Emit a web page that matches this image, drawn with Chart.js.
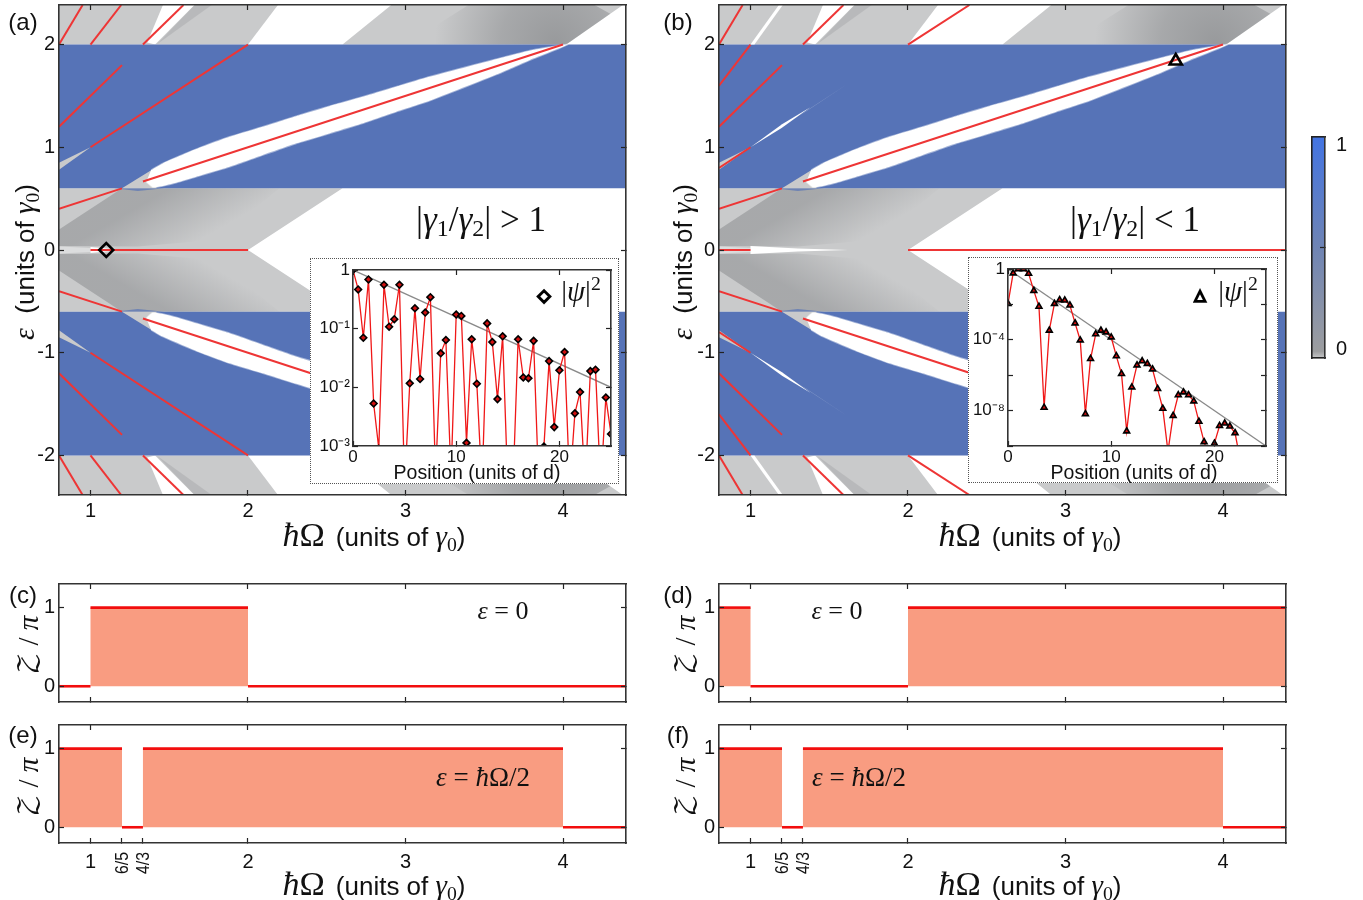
<!DOCTYPE html>
<html>
<head>
<meta charset="utf-8">
<script src="https://cdn.jsdelivr.net/npm/chart.js@4"></script>
<style>
  body { margin: 0; background: #fff; }
  #page { position: relative; width: 1363px; height: 900px; overflow: hidden; font-family: "Liberation Sans", sans-serif; color: #111; }
  canvas { position: absolute; }
  .lbl { position: absolute; transform: translate(-50%, -50%); white-space: nowrap; line-height: 1; }
  .math { font-family: "Liberation Serif", serif; }
  .math i { font-style: italic; }
  .math sub { font-size: 68%; vertical-align: -0.25em; line-height: 0; }
  .math sup { font-size: 68%; vertical-align: 0.55em; line-height: 0; }
  .inset { position: absolute; background: #fff; border: 1px dotted #555; box-sizing: border-box; }
</style>
</head>
<body>
<div id="page"></div>
<script>
// Ejes
const xLim = [0.8, 4.4];
const yLim = [-2.385, 2.385];
const xTicks = [1, 2, 3, 4];
const yTicks = [-2, -1, 0, 1, 2];
const zakTicks = [0, 1];
const fracTicks = [6 / 5, 4 / 3];
const fracLabels = ["6/5", "4/3"];

// Regiones del mapa (Omega, epsilon), mitad superior; la inferior es su espejo
const blueBand = [[0.8, 0.6], [4.4, 0.6], [4.4, 2], [0.8, 2]];
const grayCenter = [[0.8, -0.6], [2.6, -0.6], [2, 0], [2.6, 0.6], [0.8, 0.6]];
const grayTopLeft = [[0.8, 2], [2, 2], [2.19, 2.385], [0.8, 2.385]];
const grayTopRight = [[2.6, 2], [4.02, 2], [4.38, 2.385], [2.91, 2.385]];
const shadeCenter = [[0.8, 0.2], [1.2, 0.6], [2.2, 0.6], [1.8, 0.1], [1.3, 0.035], [0.8, 0.04]];
const shadeCenterFrom = [1.375, 0.486];
const shadeCenterTo = [1.565, -0.02];
const shadeTopWedge = [[1.42, 2], [1.77, 2.385], [1.66, 2.385]];
const shadeTopRight = [[3.0, 2], [4.02, 2], [4.3, 2.3], [4.2, 2.385], [3.4, 2.385]];
const shadeTopAt = [3.95, 2.02];
const blueGlow = [[1.15, 0.6], [1.47, 0.6], [1.3, 0.575]];
const lens = [
  [1.385, 0.778], [1.459, 0.843], [1.671, 0.982], [1.883, 1.102], [2.094, 1.2], [2.306, 1.303], [2.517, 1.4], [2.729, 1.491], [2.941, 1.589], [3.152, 1.686], [3.58, 1.86], [3.8, 1.945], [4.03, 2],
  [3.79, 1.85], [3.58, 1.71], [3.152, 1.452], [2.941, 1.345], [2.729, 1.233], [2.517, 1.135], [2.306, 1.038], [2.094, 0.924], [1.883, 0.81], [1.671, 0.713], [1.565, 0.664], [1.459, 0.623], [1.395, 0.612], [1.354, 0.664]
];
const wedgeLeft = [[0.8, 0.85], [1, 1], [0.8, 0.78]];
const wedgeMid = [[1.2, 0.6], [1.39, 0.78], [1.42, 0.6]];
const whiteTop = [[1.36, 2.02], [1.41, 2], [1.66, 2.385], [1.46, 2.385]];
const paleZero = [[0.8, 0.035], [1, 0.02], [1, -0.02], [0.8, -0.035]];
const whiteZeroA = [[1, 0.03], [1.2, 0], [1, -0.03]];
const whiteZeroB = [[1, 0.04], [1.3, 0.015], [1.62, 0], [1.3, -0.015], [1, -0.04]];
const sliverMid = [[1, 1], [1.2, 1.225], [1.38, 1.39], [1.2, 1.19]];
const sliverFaint = [[1.3, 1.3], [1.62, 1.62], [1.35, 1.345]];
const sliverTop = [[1, 2], [1.025, 2], [1.205, 2.385], [1.18, 2.385]];

// Estados de borde (rojo), cada uno [inicio, fin]
const edgesA = [
  [[0.8, 2], [0.95, 2.385]], [[1, 2], [1.195, 2.385]], [[1.333, 2], [1.59, 2.385]],
  [[0.8, 1.2], [1.2, 1.8]], [[1, 1], [2, 2]], [[1.333, 0.667], [4, 2]], [[0.8, 0.4], [1.2, 0.6]],
  [[1, 0], [2, 0]],
  [[0.8, -0.4], [1.2, -0.6]], [[1.333, -0.667], [4, -2]], [[1, -1], [2, -2]], [[0.8, -1.2], [1.2, -1.8]],
  [[0.8, -2], [0.95, -2.385]], [[1, -2], [1.195, -2.385]], [[1.333, -2], [1.59, -2.385]]
];
const edgesB = [
  [[0.8, 2], [0.95, 2.385]], [[1.333, 2], [1.59, 2.385]], [[2, 2], [2.39, 2.385]],
  [[0.8, 1.6], [1, 2]], [[0.8, 1.2], [1.2, 1.8]], [[0.8, 0.8], [1, 1]], [[1.333, 0.667], [4, 2]], [[0.8, 0.4], [1.2, 0.6]],
  [[0.8, 0], [1, 0]], [[2, 0], [4.4, 0]],
  [[0.8, -0.4], [1.2, -0.6]], [[1.333, -0.667], [4, -2]], [[0.8, -0.8], [1, -1]], [[0.8, -1.2], [1.2, -1.8]], [[0.8, -1.6], [1, -2]],
  [[0.8, -2], [0.95, -2.385]], [[1.333, -2], [1.59, -2.385]], [[2, -2], [2.39, -2.385]]
];
const markerA = [[1.1, 0]];
const markerB = [[3.7, 1.84]];

// |psi|^2 de los recuadros, un valor cada 0.5 d
const insetPosA = [0, 0.5, 1, 1.5, 2, 2.5, 3, 3.5, 4, 4.5, 5, 5.5, 6, 6.5, 7, 7.5, 8, 8.5, 9, 9.5, 10, 10.5, 11, 11.5, 12, 12.5, 13, 13.5, 14, 14.5, 15, 15.5, 16, 16.5, 17, 17.5, 18, 18.5, 19, 19.5, 20, 20.5, 21, 21.5, 22, 22.5, 23, 23.5, 24, 24.5, 25];
const insetValA = [1, 0.466, 0.07, 0.69, 0.0053, 0.0009, 0.56, 0.108, 0.145, 0.56, 0.0002, 0.0117, 0.223, 0.0139, 0.188, 0.344, 0.0003, 0.038, 0.064, 0.0003, 0.174, 0.165, 0.00113, 0.066, 0.0115, 0.0002, 0.123, 0.059, 0.0063, 0.074, 0.0002, 0.0002, 0.066, 0.0147, 0.0143, 0.062, 0.0002, 0.00098, 0.028, 0.0021, 0.0195, 0.04, 0.0002, 0.0036, 0.0083, 0.0002, 0.0189, 0.02, 0.0002, 0.0067, 0.0016];
const insetPosB = [0, 0.5, 1, 1.5, 2, 2.5, 3, 3.5, 4, 4.5, 5, 5.5, 6, 6.5, 7, 7.5, 8, 8.5, 9, 9.5, 10, 10.5, 11, 11.5, 12, 12.5, 13, 13.5, 14, 14.5, 15, 15.5, 16, 16.5, 17, 17.5, 18, 18.5, 19, 19.5, 20, 20.5, 21, 21.5, 22, 22.5];
const insetValB = [1.1e-2, 0.58, 1, 1, 0.55, 6e-2, 7.6e-3, 1.5e-8, 3.4e-4, 1.1e-2, 1.8e-2, 1.7e-2, 8.9e-3, 8.7e-4, 9.5e-5, 6.5e-9, 8.5e-6, 2.1e-4, 3.4e-4, 2.7e-4, 1.4e-4, 1.2e-5, 1.2e-6, 6.9e-10, 2.1e-7, 3.7e-6, 6.3e-6, 4.5e-6, 2.2e-6, 1.7e-7, 1.3e-8, 5e-11, 5.2e-9, 7.6e-8, 1.1e-7, 7.6e-8, 3.4e-8, 2.4e-9, 1.7e-10, 2.5e-11, 1.4e-10, 1.4e-9, 1.9e-9, 1.3e-9, 5.5e-10, 1.6e-11];
const envelopeA = [[0, 1], [25, 0.01]];
const envelopeB = [[0, 1], [25, 1e-10]];
const insetTicksA = [1, 0.1, 0.01, 0.001];
const insetLabelsA = ["1", "10⁻¹", "10⁻²", "10⁻³"];
const insetTicksB = [1, 1e-2, 1e-4, 1e-6, 1e-8, 1e-10];
const insetLabelsB = ["1", "", "10⁻⁴", "", "10⁻⁸", ""];
const insetXTicks = [0, 10, 20];

// Fase de Zak: tramos en 1 y tramos en 0
const zakOneC = [[1, 2]];
const zakZeroC = [[0.8, 1], [2, 4.4]];
const zakOneD = [[0.8, 1], [2, 4.4]];
const zakZeroD = [[1, 2]];
const zakOneE = [[0.8, 1.2], [1.333, 4]];
const zakZeroE = [[1.2, 1.333], [4, 4.4]];
const zakOneF = [[0.8, 1.2], [1.333, 4]];
const zakZeroF = [[1.2, 1.333], [4, 4.4]];

const barStops = [[0, "#c6c7c8"], [0.03, "#9c9d9f"], [0.5, "#6f84b4"], [1, "#4374e2"]];
const barTicks = [0.04, 0.5, 0.96];
const barLabels = ["0", "", "1"];

const BLUE = "#5673b7";
const GRAY = "#c9cacb";
const RED = "#ee3535";

const page = document.getElementById("page");
const toXY = (p) => p.map(([x, y]) => ({ x, y }));
const mirror = (p) => p.map(([x, y]) => [x, -y]);

function poly(points, color) {
  return { type: "scatter", data: toXY(points), showLine: true, fill: "shape", backgroundColor: color, borderWidth: 0, borderColor: "transparent", pointRadius: 0, tension: 0 };
}
function seg(points, color, width) {
  return { type: "scatter", data: toXY(points), showLine: true, fill: false, borderColor: color, borderWidth: width, pointRadius: 0, tension: 0 };
}
const valuePx = (chart, p) => [chart.scales.x.getPixelForValue(p[0]), chart.scales.y.getPixelForValue(p[1])];
// Sombras suaves dentro de las regiones grises
function radialPoly(points, center, radius, alpha) {
  return poly(points, ({ chart }) => {
    const [cx, cy] = valuePx(chart, center);
    if (!Number.isFinite(cx) || !Number.isFinite(cy)) return "rgba(120,122,125,0)";
    const g = chart.ctx.createRadialGradient(cx, cy, 0, cx, cy, radius);
    g.addColorStop(0, `rgba(120,122,125,${alpha})`);
    g.addColorStop(0.45, `rgba(120,122,125,${alpha * 0.7})`);
    g.addColorStop(1, "rgba(120,122,125,0)");
    return g;
  });
}
function linearPoly(points, from, to, alpha) {
  return poly(points, ({ chart }) => {
    const [x0, y0] = valuePx(chart, from);
    const [x1, y1] = valuePx(chart, to);
    if (![x0, y0, x1, y1].every(Number.isFinite)) return "rgba(120,122,125,0)";
    const g = chart.ctx.createLinearGradient(x0, y0, x1, y1);
    g.addColorStop(0, `rgba(120,122,125,${alpha})`);
    g.addColorStop(1, "rgba(120,122,125,0)");
    return g;
  });
}
function lensPoly(points) {
  return { ...poly(points, "#fff"), tension: 0.15, borderWidth: 1.6, borderColor: "rgba(255,255,255,0.45)" };
}

// Eje con marcas hacia adentro
function axis(opts) {
  const { position, min, max, ticks, type, labels, fontSize, size, pad } = opts;
  const showLabels = !!labels;
  return {
    type: type || "linear", position, min, max,
    afterBuildTicks: (s) => { s.ticks = ticks.map((value) => ({ value })); },
    afterFit: (s) => {
      if (s.isHorizontal()) s.height = size; else s.width = size;
      s.paddingLeft = s.paddingRight = s.paddingTop = s.paddingBottom = 0;
    },
    grid: { drawOnChartArea: false, tickLength: -5, tickWidth: 1.2, tickColor: "#222", z: 1 },
    border: { color: "#333", width: 1.6, z: 1 },
    ticks: {
      display: showLabels, autoSkip: false, padding: pad === undefined ? 11 : pad, color: "#111",
      font: { family: "Liberation Sans", size: fontSize || 20 },
      minRotation: 0, maxRotation: 0,
      callback: showLabels ? (v, i) => labels(v, i) : () => ""
    }
  };
}

// box: lienzo en la pagina, plot: area de datos en la pagina
function addChart(box, plot, datasets, scales, parent) {
  const canvas = document.createElement("canvas");
  canvas.width = box.w; canvas.height = box.h;
  canvas.style.left = (parent ? 0 : box.x) + "px";
  canvas.style.top = (parent ? 0 : box.y) + "px";
  (parent || page).appendChild(canvas);
  datasets.forEach((d, i) => { d.order = datasets.length - i; });
  return new Chart(canvas, {
    type: "scatter",
    data: { datasets },
    options: {
      responsive: false, animation: false, events: [],
      layout: { autoPadding: false, padding: { left: 0, bottom: 0, top: plot.t - box.y, right: box.x + box.w - plot.r } },
      plugins: { legend: { display: false }, tooltip: { enabled: false } },
      scales
    }
  });
}

function frameScales(plot, box, o) {
  const left = plot.l - box.x;
  const bottom = box.y + box.h - plot.b;
  return {
    x: axis({ position: "bottom", min: o.xLim[0], max: o.xLim[1], ticks: o.xTicks, labels: o.xLabels, size: bottom, pad: o.xPad, fontSize: o.fontSize }),
    y: axis({ position: "left", min: o.yLim[0], max: o.yLim[1], ticks: o.yTicks, labels: o.yLabels, size: left, type: o.yType, pad: o.yPad, fontSize: o.fontSize }),
    xTop: axis({ position: "top", min: o.xLim[0], max: o.xLim[1], ticks: o.topTicks || o.xTicks, size: 0 }),
    yRight: axis({ position: "right", min: o.yLim[0], max: o.yLim[1], ticks: o.yTicks, size: 0, type: o.yType })
  };
}

function spectrumSets(edges, marker, markerStyle, extra) {
  const sets = [
    poly(grayCenter, GRAY), poly(grayTopLeft, GRAY), poly(mirror(grayTopLeft), GRAY),
    poly(grayTopRight, GRAY), poly(mirror(grayTopRight), GRAY),
    linearPoly(shadeCenter, shadeCenterFrom, shadeCenterTo, 0.42),
    linearPoly(mirror(shadeCenter), mirror([shadeCenterFrom])[0], mirror([shadeCenterTo])[0], 0.42),
    radialPoly(shadeTopRight, shadeTopAt, 120, 0.6),
    radialPoly(mirror(shadeTopRight), mirror([shadeTopAt])[0], 120, 0.6),
    poly(shadeTopWedge, "rgba(120,122,125,0.2)"), poly(mirror(shadeTopWedge), "rgba(120,122,125,0.2)"),
    poly(blueGlow, "rgba(86,115,183,0.7)"), poly(mirror(blueGlow), "rgba(86,115,183,0.7)")
  ];
  sets.push(poly(whiteTop, "#fff"), poly(mirror(whiteTop), "#fff"), poly(paleZero, "#dcddde"));
  sets.push(poly(blueBand, BLUE), poly(mirror(blueBand), BLUE));
  [wedgeLeft, wedgeMid].forEach((p) => { sets.push(poly(p, GRAY), poly(mirror(p), GRAY)); });
  sets.push(lensPoly(lens), lensPoly(mirror(lens)));
  extra.forEach((e) => sets.push(e));
  edges.forEach((e) => sets.push(seg(e, RED, 2)));
  sets.push({ type: "scatter", data: toXY(marker), pointStyle: markerStyle, pointRadius: 7, pointBorderWidth: 2.6, pointBackgroundColor: "transparent", pointBorderColor: "#000", showLine: false });
  return sets;
}

function spectrumPanel(offset, edges, marker, markerStyle, extra) {
  const box = { x: offset, y: 0, w: 640, h: 525 };
  const plot = { l: offset + 59, r: offset + 626, t: 5, b: 495 };
  const scales = frameScales(plot, box, {
    xLim, yLim, xTicks, yTicks, xLabels: (v) => String(v), yLabels: (v) => String(v), xPad: 9, yPad: 9
  });
  addChart(box, plot, spectrumSets(edges, marker, markerStyle, extra), scales);
}

function insetPanel(box, plot, pos, vals, envelope, yRange, yTickVals, yTickText, style) {
  const wrap = document.createElement("div");
  wrap.className = "inset";
  wrap.style.cssText = `left:${box.x}px;top:${box.y}px;width:${box.w}px;height:${box.h}px`;
  page.appendChild(wrap);
  const scales = frameScales(plot, box, {
    xLim: [0, 25], yLim: yRange, xTicks: insetXTicks, yTicks: yTickVals, yType: "logarithmic",
    xLabels: (v) => String(v), yLabels: (v, i) => yTickText[i], xPad: 6, yPad: 8, fontSize: 17
  });
  const sets = [
    seg(envelope, "#8a8a8a", 1.3),
    { type: "scatter", data: pos.map((x, i) => ({ x, y: vals[i] })), showLine: true, fill: false, tension: 0, borderColor: "#f01818", borderWidth: 1.3,
      pointStyle: style, pointRadius: 3.4, pointBorderWidth: 1.6, pointBackgroundColor: "#d01010", pointBorderColor: "#000" }
  ];
  addChart(box, plot, sets, scales, wrap);
}

function zakPanel(offset, top, ones, zeros, withLabels) {
  const h = withLabels ? 175 : 135;
  const box = { x: offset, y: top - 8, w: 640, h };
  const plot = { l: offset + 59, r: offset + 626, t: top, b: top + 118 };
  const scales = frameScales(plot, box, {
    xLim, yLim: [-0.2, 1.3], xTicks: withLabels ? [...xTicks, ...fracTicks] : xTicks, topTicks: xTicks, yTicks: zakTicks,
    xLabels: withLabels ? (v) => (fracTicks.includes(v) ? "" : String(v)) : null, yLabels: (v) => String(v), xPad: 12, yPad: 9
  });
  const sets = [];
  ones.forEach(([a, b]) => sets.push(poly([[a, 0], [b, 0], [b, 1], [a, 1]], "#f99c81")));
  ones.forEach(([a, b]) => sets.push(seg([[a, 1], [b, 1]], "#f20d0d", 2.6)));
  zeros.forEach(([a, b]) => sets.push(seg([[a, 0], [b, 0]], "#f20d0d", 2.6)));
  addChart(box, plot, sets, scales);
}

function colorBar() {
  const box = { x: 1300, y: 130, w: 60, h: 236 };
  const plot = { l: 1312, r: 1325, t: 137, b: 358 };
  const canvas = document.createElement("canvas");
  canvas.width = box.w; canvas.height = box.h;
  canvas.style.left = box.x + "px"; canvas.style.top = box.y + "px";
  page.appendChild(canvas);
  const yAxis = axis({ position: "right", min: 0, max: 1, ticks: barTicks, size: box.x + box.w - plot.r, pad: 16, fontSize: 20,
    labels: (v, i) => barLabels[i] });
  yAxis.grid.tickColor = (c) => (c.index === 1 ? "#222" : "transparent");
  const plain = (pos) => ({
    position: pos, display: true, grid: { display: false, drawTicks: false }, ticks: { display: false },
    border: { color: "#222", width: 1.6, z: 1 },
    afterFit: (s) => { if (s.isHorizontal()) s.height = 0; else s.width = 0; s.paddingLeft = s.paddingRight = s.paddingTop = s.paddingBottom = 0; }
  });
  new Chart(canvas, {
    type: "bar",
    data: {
      labels: [""],
      datasets: [{
        data: [[0, 1]], barPercentage: 1, categoryPercentage: 1,
        backgroundColor: ({ chart }) => {
          if (!chart.chartArea) return "#777";
          const g = chart.ctx.createLinearGradient(0, chart.chartArea.bottom, 0, chart.chartArea.top);
          barStops.forEach(([p, c]) => g.addColorStop(p, c));
          return g;
        }
      }]
    },
    options: {
      responsive: false, animation: false, events: [],
      layout: { autoPadding: false, padding: { left: plot.l - box.x, top: plot.t - box.y, bottom: box.y + box.h - plot.b, right: 0 } },
      plugins: { legend: { display: false }, tooltip: { enabled: false } },
      scales: { x: plain("bottom"), xTop: plain("top"), yLeft: { ...plain("left"), min: 0, max: 1 }, y: yAxis }
    }
  });
}

function label(html, x, y, css, cls) {
  const el = document.createElement("div");
  el.className = "lbl " + (cls || "");
  el.innerHTML = html;
  el.style.left = x + "px";
  el.style.top = y + "px";
  if (css) el.style.cssText += css;
  page.appendChild(el);
}

const xTitle = '<span class="math" style="font-size:34px"><i>ħ</i>Ω</span><span style="margin-left:11px">(units of <span class="math" style="font-size:29px"><i>γ</i><sub>0</sub></span>)</span>';
const yTitle = '<span class="math" style="font-size:30px"><i>ε</i></span>&nbsp; (units of <span class="math" style="font-size:29px"><i>γ</i><sub>0</sub></span>)';
const zakTitle = '<span style="font-family:\'DejaVu Math TeX Gyre\',\'Liberation Serif\';font-size:27px">𝒵</span><span class="math" style="font-size:29px"> / <i>π</i></span>';
const ROT = "transform:translate(-50%,-50%) rotate(-90deg);";

spectrumPanel(0, edgesA, markerA, "rectRot", [poly(whiteZeroA, "#fff")]);
spectrumPanel(660, edgesB, markerB, "triangle", [
  poly(whiteZeroB, "#fff"), poly(sliverMid, "#fff"), poly(mirror(sliverMid), "#fff"),
  poly(sliverFaint, "rgba(255,255,255,0.4)"), poly(mirror(sliverFaint), "rgba(255,255,255,0.4)"),
  poly(sliverTop, "#fff"), poly(mirror(sliverTop), "#fff")
]);

const boxA = { x: 310, y: 258, w: 309, h: 226 };
const boxB = { x: 968, y: 257, w: 310, h: 226 };
insetPanel(boxA, { l: 352, r: 610, t: 269, b: 445 }, insetPosA, insetValA, envelopeA, [0.001, 1], insetTicksA, insetLabelsA, "rectRot");
insetPanel(boxB, { l: 1007, r: 1265, t: 268, b: 445 }, insetPosB, insetValB, envelopeB, [1e-10, 1], insetTicksB, insetLabelsB, "triangle");

zakPanel(0, 584, zakOneC, zakZeroC, false);
zakPanel(660, 584, zakOneD, zakZeroD, false);
zakPanel(0, 725, zakOneE, zakZeroE, true);
zakPanel(660, 725, zakOneF, zakZeroF, true);
colorBar();

[["(a)", 23, 22], ["(b)", 678, 22], ["(c)", 23, 595], ["(d)", 678, 595], ["(e)", 23, 735], ["(f)", 678, 735]].forEach(([t, x, y]) => {
  label(t, x, y, "font-size:24px;");
});
[374, 1030].forEach((x) => {
  label(xTitle, x, 535, "font-size:26px;");
  label(xTitle, x, 884, "font-size:26px;");
});
label(yTitle, 24, 262, "font-size:26px;" + ROT);
label(yTitle, 682, 262, "font-size:26px;" + ROT);
[[29, 645], [29, 787], [686, 645], [686, 787]].forEach(([x, y]) => {
  label(zakTitle, x, y, ROT);
});
[[122, fracLabels[0]], [143, fracLabels[1]], [782, fracLabels[0]], [803, fracLabels[1]]].forEach(([x, t]) => {
  label(t, x, 863, "font-size:18px;transform:translate(-50%,-50%) rotate(-90deg) scaleX(0.88);");
});

label('|<i>γ</i><sub>1</sub>/<i>γ</i><sub>2</sub>| &gt; 1', 481, 219, "font-size:35px;", "math");
label('|<i>γ</i><sub>1</sub>/<i>γ</i><sub>2</sub>| &lt; 1', 1135, 219, "font-size:35px;", "math");
label('<i>ε</i> = 0', 503, 611, "font-size:26px;", "math");
label('<i>ε</i> = 0', 837, 611, "font-size:26px;", "math");
label('<i>ε</i> = <i>ħ</i>Ω/2', 483, 777, "font-size:27px;", "math");
label('<i>ε</i> = <i>ħ</i>Ω/2', 859, 777, "font-size:27px;", "math");

label('|<i>ψ</i>|<sup>2</sup>', 581, 291, "font-size:29px;", "math");
label('|<i>ψ</i>|<sup>2</sup>', 1238, 291, "font-size:29px;", "math");
label('◇', 544, 295, "font-size:17px;font-family:'DejaVu Sans';-webkit-text-stroke:2px #000;");
label('△', 1200, 295, "font-size:15px;font-family:'DejaVu Sans';-webkit-text-stroke:2px #000;");
label('Position (units of d)', 477, 473, "font-size:19.5px;");
label('Position (units of d)', 1134, 473, "font-size:19.5px;");
</script>
</body>
</html>
